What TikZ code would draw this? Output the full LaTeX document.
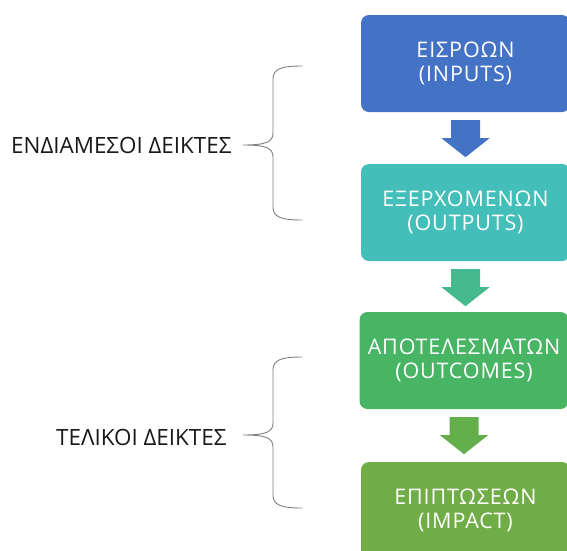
\documentclass[tikz,border=0pt]{standalone}
\usepackage{fontspec}
\setmainfont{Open Sans}
\newfontfamily\boxfont[LetterSpace=4]{Open Sans}
\usepackage{tikz}
\usetikzlibrary{calc}

\definecolor{inblue}{HTML}{4472C4}
\definecolor{outteal}{HTML}{43BEB9}
\definecolor{ocgreen}{HTML}{47B564}
\definecolor{impgreen}{HTML}{70AD47}
\definecolor{arrteal}{HTML}{44BA8E}
\definecolor{arrgreen}{HTML}{64AF4C}
\definecolor{bracegray}{HTML}{7F7F7F}

\tikzset{
  level/.style={rounded corners=8pt, minimum width=209pt, minimum height=97pt,
    text=white, align=center, font=\boxfont\fontsize{21.5}{24}\selectfont},
  label/.style={font=\fontsize{22.4}{24}\selectfont, text=black!90},
  brace/.style={draw=bracegray, line width=0.9pt}
}

% block arrow below box #1, coloured #2
\newcommand{\downarrowblock}[2]{%
  \fill[#2] ($(#1.south)+(-14.5,8)$) -- ++(29,0) -- ++(0,18) -- ++(9.5,0)
    -- ($(#1.south)+(0,45)$) -- ($(#1.south)+(-24,26)$) -- ++(9.5,0) -- cycle;}

% left brace from top #1 to bottom #2 (y values), tip at #3
\newcommand{\leftbrace}[3]{%
  \draw[brace] (302,#1) .. controls (281,#1) and (273,#1+3) .. (273,#1+13)
    -- (273,#3-12) .. controls (273,#3-3) and (266,#3) .. (243,#3)
    .. controls (266,#3) and (273,#3+3) .. (273,#3+12)
    -- (273,#2-13) .. controls (273,#2-3) and (281,#2) .. (302,#2);}

\begin{document}
\begin{tikzpicture}[x=1pt, y=-1pt]
\useasboundingbox (0,0) rectangle (567,550);

\node[level, fill=inblue] (inputs) at (465.5,63.5) {ΕΙΣΡΟΩΝ\\(INPUTS)};
\node[level, fill=outteal] (outputs) at (465.5,212.5) {ΕΞΕΡΧΟΜΕΝΩΝ\\(OUTPUTS)};
\node[level, fill=ocgreen] (outcomes) at (464,360.5) {ΑΠΟΤΕΛΕΣΜΑΤΩΝ\\(OUTCOMES)};
\node[level, fill=impgreen] (impact) at (465.5,510.5) {ΕΠΙΠΤΩΣΕΩΝ\\(IMPACT)};

\downarrowblock{inputs}{inblue}
\downarrowblock{outputs}{arrteal}
\downarrowblock{outcomes}{arrgreen}

\node[label, anchor=east] (interim) at (235,145) {ΕΝΔΙΑΜΕΣΟΙ ΔΕΙΚΤΕΣ};
\node[label, anchor=east] (final) at (230,437) {ΤΕΛΙΚΟΙ ΔΕΙΚΤΕΣ};

\leftbrace{66}{220}{145}
\leftbrace{357}{508}{435}
\end{tikzpicture}
\end{document}
